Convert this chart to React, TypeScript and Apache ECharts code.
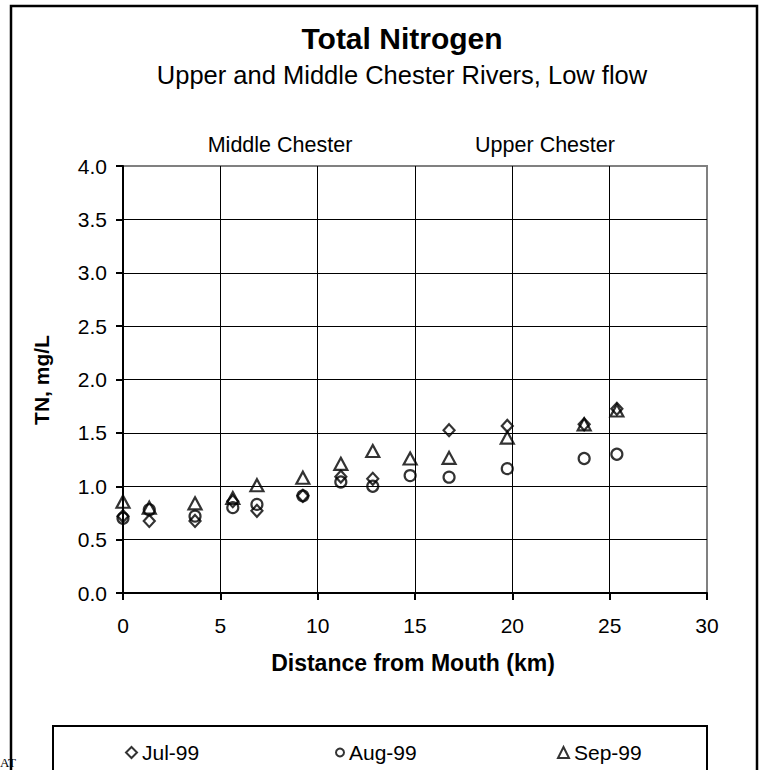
import React, { useEffect, useRef } from "react";
import * as echarts from "echarts";

const distances = [0, 1.35, 3.7, 5.64, 6.88, 9.24, 11.19, 12.83, 14.75, 16.75, 19.74, 23.69, 25.37];
const jul99 = [0.72, 0.675, 0.675, 0.86, 0.77, 0.91, 1.09, 1.07, null, 1.525, 1.565, 1.58, 1.725];
const aug99 = [0.70, 0.78, 0.72, 0.80, 0.83, 0.91, 1.04, 1.0, 1.1, 1.085, 1.165, 1.26, 1.3];
const sep99 = [0.855, 0.8, 0.84, 0.89, 1.01, 1.08, 1.21, 1.33, 1.26, 1.266, 1.456, 1.58, 1.71];
const seriesNames = ["Jul-99", "Aug-99", "Sep-99"];

const FONT = "'Liberation Sans', Arial, Helvetica, sans-serif";

function pairs(vals: (number | null)[]) {
  const out: [number, number][] = [];
  vals.forEach((v, i) => {
    if (v !== null) out.push([distances[i], v]);
  });
  return out;
}

export default function App() {
  const ref = useRef<HTMLDivElement>(null);
  useEffect(() => {
    if (!ref.current) return;
    const chart = echarts.init(ref.current, null, { renderer: "svg" });
    const markerStyle = { color: "rgba(0,0,0,0)", borderColor: "#000", borderWidth: 2.2 };
    const mk = (name: string, symbol: string, size: any, vals: (number | null)[]) => ({
      type: "scatter",
      name,
      symbol,
      symbolSize: size,
      data: pairs(vals),
      itemStyle: markerStyle,
      emphasis: { disabled: true },
    });
    const legendCommon = {
      top: 737,
      itemWidth: 11,
      itemHeight: 11,
      itemGap: 6,
      textStyle: { fontSize: 21, color: "#000", fontFamily: FONT },
      selectedMode: false,
    };
    chart.setOption({
      animation: false,
      backgroundColor: "#fff",
      grid: {
        left: 123,
        top: 166,
        right: 56,
        bottom: 177,
        show: true,
        borderColor: "#808080",
        borderWidth: 2,
        backgroundColor: "transparent",
      },
      xAxis: {
        type: "value",
        min: 0,
        max: 30,
        interval: 5,
        axisLine: { show: true, lineStyle: { color: "#000", width: 2 } },
        axisTick: { show: true, length: 7, lineStyle: { color: "#000", width: 2 } },
        axisLabel: { color: "#000", fontSize: 21, fontFamily: FONT, margin: 22 },
        splitLine: { show: true, showMaxLine: false, showMinLine: false, lineStyle: { color: "#000", width: 1 } },
      },
      yAxis: {
        type: "value",
        min: 0,
        max: 4,
        interval: 0.5,
        axisLine: { show: true, lineStyle: { color: "#000", width: 2 } },
        axisTick: { show: true, length: 7, lineStyle: { color: "#000", width: 2 } },
        axisLabel: {
          color: "#000",
          fontSize: 21,
          fontFamily: FONT,
          margin: 16,
          formatter: (v: number) => v.toFixed(1),
        },
        splitLine: { show: true, showMaxLine: false, showMinLine: false, lineStyle: { color: "#000", width: 1 } },
      },
      legend: [
        { ...legendCommon, left: 120, data: [seriesNames[0]] },
        { ...legendCommon, left: 330, data: [seriesNames[1]], itemWidth: 8, itemHeight: 8 },
        { ...legendCommon, left: 552, data: [seriesNames[2]] },
      ],
      series: [
        mk(seriesNames[0], "diamond", [11, 12], jul99),
        mk(seriesNames[1], "circle", 11, aug99),
        mk(seriesNames[2], "triangle", [13, 12], sep99),
      ],
      graphic: [
        {
          type: "rect",
          shape: { x: 11, y: 6, width: 746, height: 800 },
          style: { fill: "none", stroke: "#000", lineWidth: 2.5 },
          silent: true,
          z: -10,
        },
        {
          type: "rect",
          shape: { x: 53, y: 726, width: 654, height: 80 },
          style: { fill: "none", stroke: "#000", lineWidth: 2 },
          silent: true,
        },
        {
          type: "text",
          x: 402,
          y: 38,
          style: { text: "Total Nitrogen", align: "center", verticalAlign: "middle", font: `bold 30px ${FONT}`, fill: "#000" },
        },
        {
          type: "text",
          x: 402,
          y: 75,
          style: { text: "Upper and Middle Chester Rivers, Low flow", align: "center", verticalAlign: "middle", font: `25.5px ${FONT}`, fill: "#000" },
        },
        {
          type: "text",
          x: 280,
          y: 145,
          style: { text: "Middle Chester", align: "center", verticalAlign: "middle", font: `21.5px ${FONT}`, fill: "#000" },
        },
        {
          type: "text",
          x: 545,
          y: 145,
          style: { text: "Upper Chester", align: "center", verticalAlign: "middle", font: `21.5px ${FONT}`, fill: "#000" },
        },
        {
          type: "text",
          x: 413,
          y: 663,
          style: { text: "Distance from Mouth (km)", align: "center", verticalAlign: "middle", font: `bold 23px ${FONT}`, fill: "#000" },
        },
        {
          type: "text",
          x: 41,
          y: 380,
          rotation: Math.PI / 2,
          style: { text: "TN, mg/L", align: "center", verticalAlign: "middle", font: `bold 21px ${FONT}`, fill: "#000" },
        },
        {
          type: "text",
          x: 0,
          y: 756,
          style: { text: "AT", align: "left", verticalAlign: "top", font: `13px 'Liberation Serif', serif`, fill: "#000" },
        },
      ],
    });
    return () => chart.dispose();
  }, []);
  return (
    <div
      ref={ref}
      style={{ position: "absolute", left: 0, top: 0, width: 763, height: 770 }}
    />
  );
}
